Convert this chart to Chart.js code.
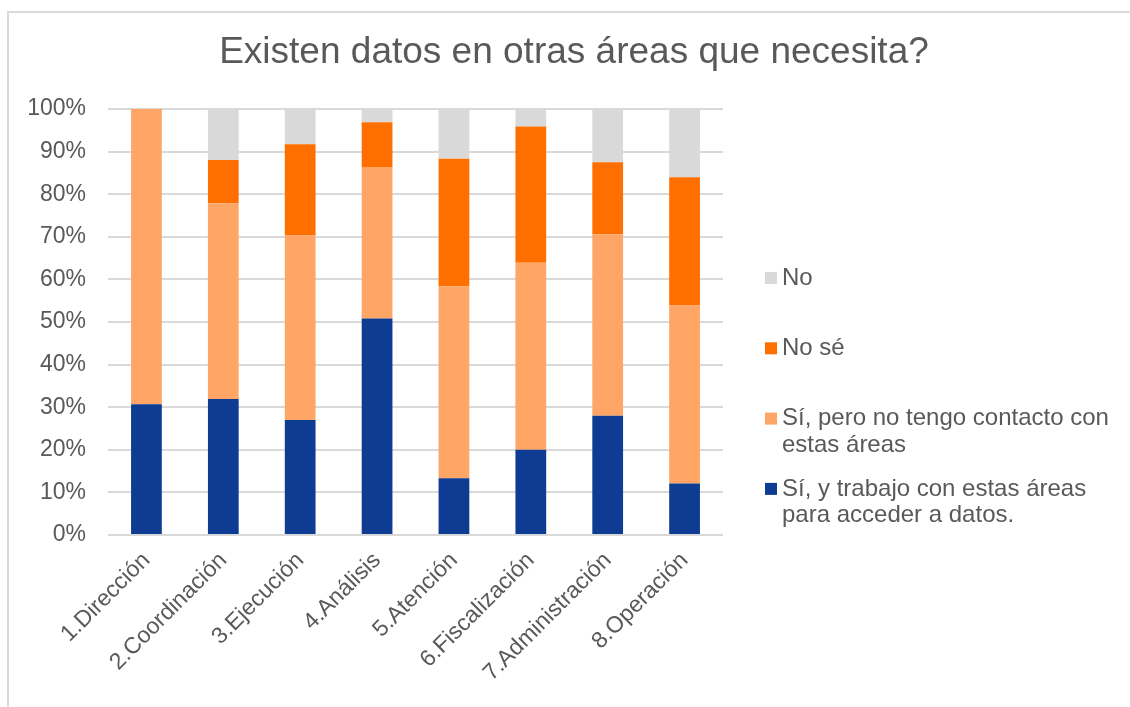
<!DOCTYPE html>
<html lang="es">
<head>
<meta charset="utf-8">
<title>Existen datos en otras áreas que necesita?</title>
<script src="https://cdn.jsdelivr.net/npm/chart.js@4.4.0/dist/chart.umd.min.js"></script>
<style>
  html, body { margin: 0; padding: 0; background: #fff; overflow: hidden; }
  #frame {
    position: absolute; left: 7px; top: 11px; width: 2000px; height: 2000px;
    border-left: 2px solid #d9d9d9; border-top: 2px solid #d9d9d9;
  }
  #wrap { position: absolute; left: 0; top: 0; width: 1130px; height: 707px; }
</style>
</head>
<body>
<div id="frame"></div>
<div id="wrap"><canvas id="myChart" width="1130" height="707"></canvas></div>
<script>
// Share of answers per area (100% stacked)
const areas = [
  '1.Dirección', '2.Coordinación', '3.Ejecución', '4.Análisis',
  '5.Atención', '6.Fiscalización', '7.Administración', '8.Operación',
]
const siTrabajo = [30.7, 31.9, 27.0, 50.8, 13.3, 20.0, 28.0, 12.1]
const siSinContacto = [69.3, 46.0, 43.3, 35.6, 45.1, 43.9, 42.6, 41.8]
const noSe = [0, 10.1, 21.4, 10.5, 29.9, 32.0, 16.9, 30.1]
const no = [0, 12.0, 8.3, 3.1, 11.7, 4.1, 12.5, 16.0]

const seriesNames = [
  'Sí, y trabajo con estas áreas para acceder a datos.',
  'Sí, pero no tengo contacto con estas áreas',
  'No sé',
  'No',
]
const seriesColors = ['#0e3c92', '#ffa666', '#ff6f00', '#d9d9d9']
const yTicks = [0, 10, 20, 30, 40, 50, 60, 70, 80, 90, 100]
const chartTitle = 'Existen datos en otras áreas que necesita?'

const FONT = '"Liberation Sans", Arial, sans-serif'
const TEXT = '#595959'

// split a legend label into lines no wider than maxWidth
function wrapText(ctx, text, maxWidth) {
  const words = text.split(' ')
  const lines = []
  let line = ''
  words.forEach((w) => {
    const test = line ? line + ' ' + w : w
    if (ctx.measureText(test).width > maxWidth && line) {
      lines.push(line)
      line = w
    } else {
      line = test
    }
  })
  if (line) lines.push(line)
  return lines
}

// title centred over the whole picture and legend on the right,
// legend entries listed top-down in reverse stacking order
const titleAndLegend = {
  id: 'titleAndLegend',
  afterDraw(chart, args, opts) {
    const { ctx } = chart
    ctx.save()
    ctx.fillStyle = TEXT
    ctx.textBaseline = 'middle'
    ctx.textAlign = 'center'
    ctx.font = `37px ${FONT}`
    ctx.fillText(opts.title, opts.titleX, opts.titleY)

    ctx.font = `24px ${FONT}`
    ctx.textAlign = 'left'
    const items = chart.data.datasets.slice().reverse()
    items.forEach((ds, i) => {
      const y = opts.top + i * opts.step
      ctx.fillStyle = ds.backgroundColor
      ctx.fillRect(opts.x, y - 6, 12, 12)
      ctx.fillStyle = TEXT
      wrapText(ctx, ds.label, opts.maxWidth).forEach((line, j) => {
        ctx.fillText(line, opts.x + 17, y + j * opts.lineHeight)
      })
    })
    ctx.restore()
  },
}

const seriesData = [siTrabajo, siSinContacto, noSe, no]

new Chart(document.getElementById('myChart'), {
  type: 'bar',
  data: {
    labels: areas,
    datasets: seriesData.map((d, i) => ({
      label: seriesNames[i],
      data: d,
      backgroundColor: seriesColors[i],
      borderWidth: 0,
      barPercentage: 0.4,
      categoryPercentage: 1,
    })),
  },
  options: {
    responsive: false,
    animation: false,
    layout: { padding: { left: 0, right: 407, top: 109, bottom: 0 } },
    plugins: {
      legend: { display: false },
      tooltip: { enabled: false },
      title: { display: false },
      titleAndLegend: {
        title: chartTitle, titleX: 574, titleY: 53,
        x: 765, top: 278, step: 70.3, lineHeight: 26.5, maxWidth: 336,
      },
    },
    scales: {
      x: {
        stacked: true,
        grid: { display: false },
        border: { display: false },
        ticks: {
          color: TEXT,
          font: { family: FONT, size: 23 },
          minRotation: 45,
          maxRotation: 45,
          padding: 4,
        },
        afterFit(scale) { scale.height = 172 },
      },
      y: {
        stacked: true,
        min: 0,
        max: 100,
        afterBuildTicks(scale) { scale.ticks = yTicks.map((v) => ({ value: v })) },
        grid: { color: '#d9d9d9', lineWidth: 2, drawTicks: false },
        border: { display: false },
        ticks: {
          color: TEXT,
          font: { family: FONT, size: 23 },
          padding: 22,
          callback: (v) => v + '%',
        },
        afterFit(scale) { scale.width = 108 },
      },
    },
  },
  plugins: [titleAndLegend],
})
</script>
</body>
</html>
